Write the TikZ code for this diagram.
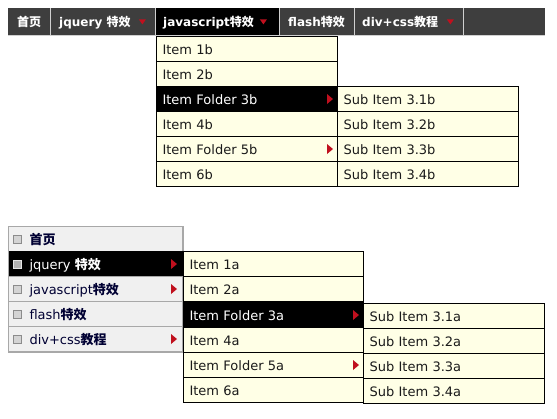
\documentclass[tikz,border=0pt]{standalone}
\usepackage{fontspec}
\setmainfont{DejaVu Sans}
\newfontfamily\cjk{Noto Sans CJK SC}
\definecolor{barbg}{HTML}{3E3E3E}
\definecolor{barsep}{HTML}{D0D0D0}
\definecolor{cream}{HTML}{FFFFE6}
\definecolor{vbg}{HTML}{F0F0F0}
\definecolor{vline}{HTML}{A8A8A8}
\definecolor{navy}{HTML}{000033}
\definecolor{arrowred}{HTML}{C0101E}
\definecolor{itemtext}{HTML}{1A1A1A}
\definecolor{iconfill}{HTML}{D4D4D4}
\definecolor{icondark}{HTML}{8C8C8C}
\newcommand\zh[1]{{\cjk\bfseries #1}}
\newcommand\dnarrow[2]{\fill[arrowred] ([xshift=#2-3.5pt,yshift=16pt]#1.south east) -- ([xshift=#2+3.5pt,yshift=16pt]#1.south east) -- ([xshift=#2,yshift=11pt]#1.south east) -- cycle;}
\newcommand\rtarrow[3]{\fill[arrowred] ([xshift=#2,yshift=5pt]#1.east) -- ([xshift=#3]#1.east) -- ([xshift=#2,yshift=-5pt]#1.east) -- cycle;}
\begin{document}
\begin{tikzpicture}[x=1pt,y=-1pt,
  barcell/.style={anchor=north west, minimum height=27pt, inner sep=0pt, fill=barbg, draw=none},
  bartext/.style={anchor=base west, inner sep=0pt, text=white, font=\fontsize{12}{14}\selectfont\bfseries},
  barsepline/.style={draw=barsep, line width=1pt},
  menuitem/.style={anchor=north west, inner ysep=0pt, minimum height=25pt, align=left,
     text height=12pt, text depth=0.5pt, font=\fontsize{13}{15}\selectfont},
  ditem/.style={menuitem, inner xsep=6pt, draw=black, line width=1pt, fill=cream, text=itemtext},
  dact/.style={fill=black, text=white},
  vitem/.style={menuitem, inner xsep=21pt, text width=132pt, draw=vline, line width=1pt, fill=vbg, text=navy},
  vact/.style={fill=black, draw=black, text=white},
  icon/.style={minimum size=8pt, inner sep=0pt, draw=icondark, line width=0.8pt, fill=iconfill}
]
\useasboundingbox (0,0) rectangle (557,418);
\fill[white] (0,0) rectangle (557,418);

% ---------- top horizontal bar ----------
\node[barcell, minimum width=537pt] (bar) at (8,8) {};
\node[barcell, minimum width=42pt] (t1) at (8,8) {};
\node[barcell, minimum width=104pt] (t2) at (51,8) {};
\node[barcell, minimum width=123pt, fill=black] (t3) at (156,8) {};
\node[barcell, minimum width=74pt] (t4) at (280,8) {};
\node[barcell, minimum width=108pt] (t5) at (355,8) {};
\node[barcell, minimum width=81pt] (t6) at (464,8) {};
\foreach \c in {t1,t2,t3,t4,t5}
  \draw[barsepline] ([xshift=0.5pt]\c.north east) -- ([xshift=0.5pt]\c.south east);
\draw[barsepline] ([yshift=-0.5pt]bar.south west) -- ([yshift=-0.5pt]bar.south east);

\node[bartext] (l1) at ([xshift=9pt,yshift=9pt]t1.south west) {\zh{首页}};
\node[bartext] (l2) at ([xshift=8pt,yshift=9pt]t2.south west) {jquery \zh{特效}};
\node[bartext] (l3) at ([xshift=7pt,yshift=9pt]t3.south west) {javascript\zh{特效}};
\node[bartext] (l4) at ([xshift=8pt,yshift=9pt]t4.south west) {flash\zh{特效}};
\node[bartext] (l5) at ([xshift=7pt,yshift=9pt]t5.south west) {div+css\zh{教程}};
\dnarrow{t2}{-13pt}
\dnarrow{t3}{-16pt}
\dnarrow{t5}{-13pt}

% ---------- dropdown b ----------
\node[ditem, text width=169pt] (b1) at (156,36) {Item 1b};
\node[ditem, text width=169pt] (b2) at (156,61) {Item 2b};
\node[ditem, text width=169pt, dact] (b3) at (156,86) {Item Folder 3b};
\node[ditem, text width=169pt] (b4) at (156,111) {Item 4b};
\node[ditem, text width=169pt] (b5) at (156,136) {Item Folder 5b};
\node[ditem, text width=169pt] (b6) at (156,161) {Item 6b};
\rtarrow{b3}{-11pt}{-5pt}
\rtarrow{b5}{-11pt}{-5pt}

% ---------- sub menu b ----------
\node[ditem, text width=169pt] (sb1) at (337,86) {Sub Item 3.1b};
\node[ditem, text width=169pt] (sb2) at (337,111) {Sub Item 3.2b};
\node[ditem, text width=169pt] (sb3) at (337,136) {Sub Item 3.3b};
\node[ditem, text width=169pt] (sb4) at (337,161) {Sub Item 3.4b};

% ---------- vertical menu ----------
\node[vitem] (v1) at (8,226) {\zh{首页}};
\node[vitem, vact] (v2) at (8,251) {jquery \zh{特效}};
\node[vitem] (v3) at (8,276) {javascript\zh{特效}};
\node[vitem] (v4) at (8,301) {flash\zh{特效}};
\node[vitem] (v5) at (8,326) {div+css\zh{教程}};
\draw[vline, line width=1pt] (v1.north west) rectangle (v5.south east);
\foreach \v in {v1,v3,v4,v5}
  \node[icon] at ([xshift=9.5pt]\v.west) {};
\node[icon, fill=black!30, draw=black!10] (ic2) at ([xshift=9.5pt]v2.west) {};
\rtarrow{v2}{-12pt}{-6pt}
\rtarrow{v3}{-12pt}{-6pt}
\rtarrow{v5}{-12pt}{-6pt}

% ---------- dropdown a ----------
\node[ditem, text width=168pt] (a1) at (183,251) {Item 1a};
\node[ditem, text width=168pt] (a2) at (183,276) {Item 2a};
\node[ditem, text width=168pt, dact] (a3) at (183,302) {Item Folder 3a};
\node[ditem, text width=168pt] (a4) at (183,327) {Item 4a};
\node[ditem, text width=168pt] (a5) at (183,352) {Item Folder 5a};
\node[ditem, text width=168pt] (a6) at (183,377) {Item 6a};
\rtarrow{a3}{-11pt}{-5pt}
\rtarrow{a5}{-11pt}{-5pt}

% ---------- sub menu a ----------
\node[ditem, text width=169pt] (sa1) at (363,303) {Sub Item 3.1a};
\node[ditem, text width=169pt] (sa2) at (363,328) {Sub Item 3.2a};
\node[ditem, text width=169pt] (sa3) at (363,353) {Sub Item 3.3a};
\node[ditem, text width=169pt] (sa4) at (363,378) {Sub Item 3.4a};
\end{tikzpicture}
\end{document}
